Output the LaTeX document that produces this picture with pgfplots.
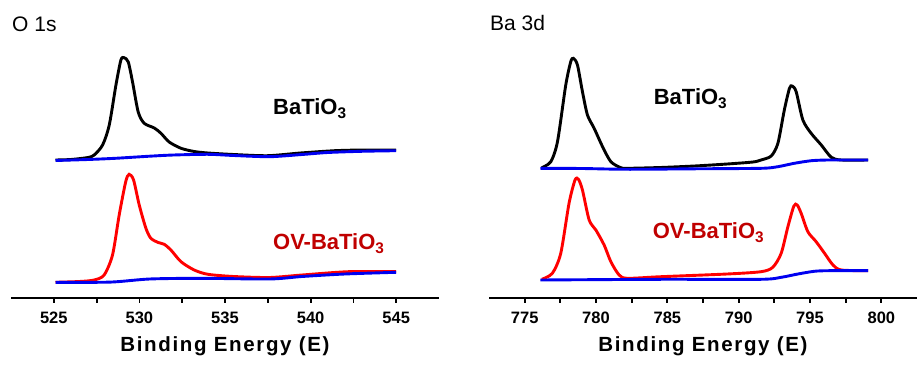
\documentclass[border=0pt]{standalone}
\usepackage{fontspec}
\setmainfont{Liberation Sans}
\usepackage{pgfplots}
\pgfplotsset{compat=1.18}
\definecolor{txtred}{HTML}{C00000}
\definecolor{cred}{HTML}{FF0000}
\definecolor{cblue}{HTML}{0000F0}
\pgfplotsset{
  xpsaxis/.style={
    scale only axis, width=428pt, height=260pt, anchor=south west,
    axis x line=bottom, axis y line=none, axis line style={-, line width=2.8pt},
    ymin=0, ymax=260, ytick=\empty,
    tick align=outside, xtick pos=bottom,
    minor x tick num=1,
    major tick length=4.5pt, minor tick length=4.5pt,
    every tick/.style={line width=1.8pt, black},
    /pgf/number format/assume math mode=true,
    /pgf/number format/1000 sep={},
    xticklabel style={font=\fontsize{16.5}{16}\selectfont\bfseries, anchor=base, yshift=-21pt},
    xlabel={Binding Energy (E)},
    xlabel style={font=\fontsize{20.5}{20}\selectfont\bfseries\addfontfeature{LetterSpace=8}, at={(axis description cs:0.5,0)}, anchor=base, yshift=-53pt},
    clip=false,
  },
  curve/.style={line width=2.9pt, smooth, tension=0.45},
}
\begin{document}
\begin{tikzpicture}
\useasboundingbox (0,0) rectangle (921pt,372pt);
\node[anchor=base west, inner sep=0pt, font=\fontsize{21}{21}\selectfont] at (12pt,340pt) {O 1s};
\node[anchor=base west, inner sep=0pt, font=\fontsize{21}{21}\selectfont] at (490pt,341pt) {Ba 3d};
\begin{axis}[xpsaxis, at={(11pt,74pt)}, xmin=522.5, xmax=547.5, xtick={525,530,535,540,545}]
\addplot[curve, black] coordinates {
(525.1,138) (526.0,138.5) (527.0,140.5) (527.36,143) (527.85,153) (528.24,173) (528.63,213) (528.92,238) (529.11,240.3) (529.35,236) (529.6,216) (529.93,186) (530.28,174.7) (530.87,170) (531.26,164.7) (531.74,156) (532.43,149.7) (533.2,146.5) (534.0,145) (535.5,143.5) (537.5,142.3) (539.4,145) (541.4,147.3) (543,148) (545,148)};
\addplot[curve, cred] coordinates {
(525.1,15.7) (526.5,16.5) (527.36,18) (527.94,23) (528.43,43) (528.82,83) (529.2,116.3) (529.4,123.7) (529.66,118) (529.99,93) (530.38,69.7) (530.67,59.7) (531.1,55.5) (531.45,53.7) (531.84,48) (532.43,36.3) (533.2,28) (534.0,23.7) (535.5,21.5) (537.6,20.5) (539.5,23) (542.2,26.3) (545,26.3)};
\addplot[curve, cblue] coordinates {
(525.1,137.5) (527,138.5) (528.6,139.7) (530.6,141.8) (532,143) (534,143.7) (535.5,142.5) (537.6,141.3) (539.5,143.5) (541,145.5) (543,146.7) (545,147.3)};
\addplot[curve, cblue] coordinates {
(525.1,15.7) (528.3,15.9) (530.6,19) (533.6,19.7) (537.6,19) (539.5,21.5) (542,24) (545,25.7)};
\node[anchor=base west, inner sep=0pt, font=\fontsize{22}{22}\selectfont\bfseries] at (axis cs:537.8,183) {BaTiO\textsubscript{3}};
\node[anchor=base west, inner sep=0pt, text=txtred, font=\fontsize{22}{22}\selectfont\bfseries] at (axis cs:537.8,48) {OV-BaTiO\textsubscript{3}};
\end{axis}
\begin{axis}[xpsaxis, at={(489pt,74pt)}, xmin=772.5, xmax=802.5, xtick={775,780,785,790,795,800}]
\addplot[curve, black] coordinates {
(776.2,130.3) (776.83,136.3) (777.3,156.3) (777.88,213) (778.23,236.3) (778.42,239.7) (778.7,233) (779.05,206.3) (779.4,183) (779.87,169.7) (780.46,151.3) (781.04,136.3) (781.74,130.3) (782.2,129.7) (784.5,130.5) (786.9,132) (789.2,134) (791.0,136) (791.57,138) (792.28,142) (792.75,154.7) (793.2,188) (793.56,209.7) (793.75,212) (794.03,206.3) (794.5,178) (795.08,164.7) (795.79,153) (796.49,140.7) (797.19,138) (799.07,138)};
\addplot[curve, cred] coordinates {
(776.2,18.7) (776.94,24.7) (777.53,44.7) (778.11,94.7) (778.53,118) (778.77,118.7) (779.05,108) (779.52,78) (779.99,68) (780.57,53) (781.04,36.3) (781.62,23) (782.2,19.7) (784.55,21.3) (789.2,24) (791.57,26.3) (792.39,30.7) (792.98,44.7) (793.45,71.3) (793.87,92) (794.1,93) (794.38,84.7) (794.85,66.3) (795.43,56.3) (796.02,44.7) (796.61,33) (797.19,28) (799.07,27.3)};
\addplot[curve, cblue] coordinates {
(776.1,129.7) (779,129.5) (782.2,128.7) (787,129.2) (791.6,129.7) (792.75,131.3) (793.9,134.7) (795.1,137.3) (796.3,138) (799.07,138)};
\addplot[curve, cblue] coordinates {
(776.1,18) (784.55,18.7) (791.57,18.7) (792.98,20.7) (794.15,24) (795.3,26.7) (796.3,27.3) (799.07,27.3)};
\node[anchor=base west, inner sep=0pt, font=\fontsize{22}{22}\selectfont\bfseries] at (axis cs:784.04,193) {BaTiO\textsubscript{3}};
\node[anchor=base west, inner sep=0pt, text=txtred, font=\fontsize{22}{22}\selectfont\bfseries] at (axis cs:783.97,59) {OV-BaTiO\textsubscript{3}};
\end{axis}
\end{tikzpicture}
\end{document}
